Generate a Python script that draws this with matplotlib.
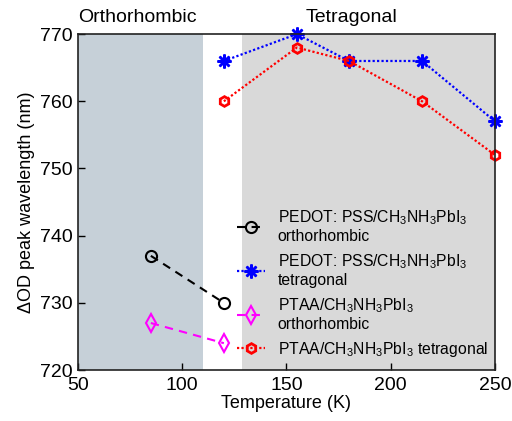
import matplotlib
matplotlib.use("Agg")
import matplotlib.pyplot as plt

plt.rcParams['font.family'] = ['Liberation Sans', 'DejaVu Sans']
plt.rcParams['mathtext.fontset'] = 'custom'
plt.rcParams['mathtext.rm'] = 'Liberation Sans'
plt.rcParams['mathtext.it'] = 'Liberation Sans:italic'

# Data
t_ortho = [85, 120]
pedot_ortho = [737, 730]
ptaa_ortho = [727, 724]
t_tetra = [120, 155, 180, 215, 250]
pedot_tetra = [766, 770, 766, 766, 757]
ptaa_tetra = [760, 768, 766, 760, 752]

ortho_range = (50, 110)
tetra_range = (128.5, 250)

fig = plt.figure(figsize=(5.12, 4.21), dpi=100)
ax = fig.add_axes([0.152, 0.121, 0.815, 0.798])

ax.axvspan(*ortho_range, color='#c6d0d8', lw=0, zorder=0)
ax.axvspan(*tetra_range, color='#d9d9d9', lw=0, zorder=0)

lab1 = 'PEDOT: PSS/CH$_3$NH$_3$PbI$_3$\northorhombic'
lab2 = 'PEDOT: PSS/CH$_3$NH$_3$PbI$_3$\ntetragonal'
lab3 = 'PTAA/CH$_3$NH$_3$PbI$_3$\northorhombic'
lab4 = 'PTAA/CH$_3$NH$_3$PbI$_3$ tetragonal'

ax.plot(t_ortho, pedot_ortho, color='black', ls=(0, (4, 3)), lw=1.5,
        marker='o', mfc='none', mec='black', ms=8, mew=1.5, label=lab1, clip_on=False)
ax.plot(t_tetra, pedot_tetra, color='blue', ls=(0, (1, 1)), lw=1.6,
        marker=(8, 2, 0), mec='blue', ms=10, mew=1.8, label=lab2, clip_on=False)
ax.plot(t_ortho, ptaa_ortho, color='magenta', ls=(0, (4, 3)), lw=1.5,
        marker='d', mfc='none', mec='magenta', ms=9, mew=1.5, label=lab3, clip_on=False)
ax.plot(t_tetra, ptaa_tetra, color='red', ls=(0, (1, 1)), lw=1.6,
        marker='h', mfc='none', mec='red', ms=7, mew=2, label=lab4, clip_on=False)

ax.set_xlim(50, 250)
ax.set_ylim(720, 770)
ax.set_xticks([50, 100, 150, 200, 250])
ax.set_yticks([720, 730, 740, 750, 760, 770])
ax.tick_params(direction='in', labelsize=14, length=5, width=1, top=False, right=False)
ax.tick_params(axis='x', pad=5)
for s in ax.spines.values():
    s.set_linewidth(1.2)
    s.set_color('#222222')
ax.set_xlabel('Temperature (K)', fontsize=13, labelpad=1)
ax.set_ylabel('ΔOD peak wavelength (nm)', fontsize=13, labelpad=4)

ax.text(50, 771.2, 'Orthorhombic', fontsize=14, ha='left', va='bottom')
ax.text(181, 771.2, 'Tetragonal', fontsize=14, ha='center', va='bottom')

leg = ax.legend(loc='lower right', bbox_to_anchor=(1.005, 0.005), frameon=False,
                fontsize=11.3, handlelength=1.8, handletextpad=0.8,
                labelspacing=0.5, borderaxespad=0.2)

fig.savefig('out.png', dpi=100)
